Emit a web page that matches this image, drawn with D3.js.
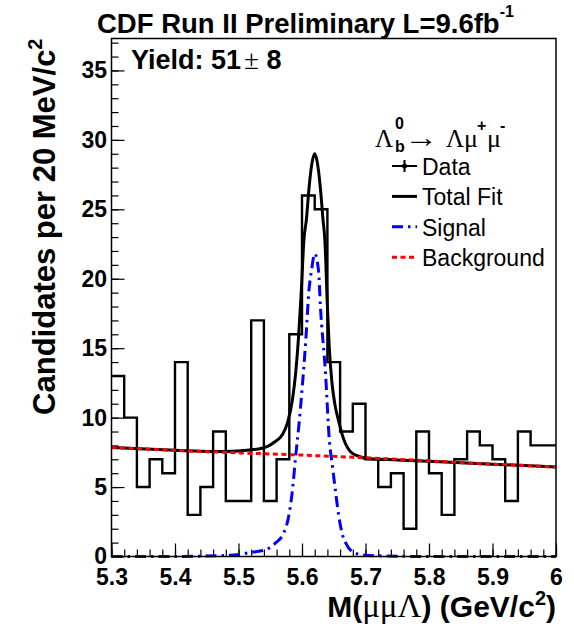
<!DOCTYPE html>
<html>
<head>
<meta charset="utf-8">
<script src="https://cdn.jsdelivr.net/npm/d3@7"></script>
<style>
body { margin: 0; background: #fff; }
svg { display: block; }
</style>
</head>
<body>
<script>
var w = 574;
var h = 626;

// frame of the pad
var frameL = 111.5, frameR = 556, frameT = 38.5, frameB = 556.5;

// histogram: candidates per 20 MeV bin, 5.30 .. 6.00
var xMin = 5.3, xMax = 6.0, binWidth = 0.02;
var counts = [13, 10, 5, 7, 6, 14, 3, 5, 9, 4,
              4, 17, 4, 7, 16, 26, 25, 14, 9, 11,
              7, 5, 6, 2, 9, 6, 3, 7, 9, 8,
              7, 4, 9, 8, 8];

// fitted curves, points
var totalMass = [5.300, 5.400, 5.460, 5.500, 5.520, 5.537, 5.545, 5.558, 5.569, 5.577,
                 5.585, 5.590, 5.595, 5.599, 5.603, 5.607, 5.611, 5.616, 5.620, 5.624,
                 5.629, 5.633, 5.636, 5.640, 5.643, 5.647, 5.652, 5.658, 5.666, 5.676,
                 5.690, 5.700, 5.750, 5.800, 5.900, 6.000];
var totalFit  = [7.85, 7.65, 7.56, 7.60, 7.68, 7.80, 7.92, 8.28, 8.76, 9.60,
                 11.3, 13.2, 16.1, 19.2, 22.8, 24.3, 26.5, 28.4, 29.0, 28.4,
                 26.5, 24.3, 22.8, 18.0, 15.0, 12.6, 10.9, 9.70, 8.40, 7.56,
                 7.20, 7.08, 6.95, 6.85, 6.65, 6.45];

var signalMass = [5.300, 5.400, 5.440, 5.480, 5.500, 5.520, 5.5425, 5.558, 5.571, 5.579,
                  5.585, 5.590, 5.595, 5.600, 5.606, 5.611, 5.615, 5.620, 5.626, 5.629,
                  5.637, 5.643, 5.648, 5.653, 5.658, 5.663, 5.669, 5.679, 5.695, 5.720,
                  5.800, 6.000];
var signalFit  = [0.00, 0.00, 0.02, 0.08, 0.15, 0.30, 0.48, 0.96, 1.68, 2.88,
                  4.80, 7.20, 9.40, 12.0, 15.6, 19.2, 20.6, 21.8, 20.6, 18.0,
                  13.2, 8.40, 6.50, 4.60, 2.90, 1.70, 0.96, 0.36, 0.12, 0.05,
                  0.00, 0.00];

var bkgMass = [5.30, 5.45, 5.60, 5.75, 5.90, 6.00];
var bkgFit  = [7.85, 7.55, 7.30, 7.00, 6.65, 6.45];

// axes
var xMajor = [5.3, 5.4, 5.5, 5.6, 5.7, 5.8, 5.9, 6.0];
var xLabels = ["5.3", "5.4", "5.5", "5.6", "5.7", "5.8", "5.9", "6"];
var yMajor = [0, 5, 10, 15, 20, 25, 30, 35];
var yTop = 37.3;

var legendNames = ["Data", "Total Fit", "Signal", "Background"];

var sans = "'Liberation Sans', Arial, Helvetica, sans-serif";
var serif = "'Liberation Serif', 'Times New Roman', serif";

var svg = d3.select("body")
            .append("svg")
            .attr("width", w)
            .attr("height", h);

svg.append("rect").attr("width", w).attr("height", h).attr("fill", "#fff");

var xScale = d3.scaleLinear()
               .domain([xMin, xMax])
               .range([frameL, frameR]);

var yScale = d3.scaleLinear()
               .domain([0, yTop])
               .range([frameB, frameT]);

// minor ticks every bin on x, every unit on y
var xMinor = d3.range(0, counts.length + 1).map(function (i) { return xMin + i * binWidth; });
var yMinor = d3.range(0, 38);

svg.append("g")
   .attr("transform", "translate(0," + frameB + ")")
   .call(d3.axisBottom(xScale).tickValues(xMinor).tickSizeInner(-7).tickSizeOuter(0).tickFormat(""))
   .call(function (g) { g.select(".domain").remove(); });

var xAxis = svg.append("g")
   .attr("transform", "translate(0," + frameB + ")")
   .call(d3.axisBottom(xScale)
           .tickValues(xMajor)
           .tickSizeInner(-13)
           .tickSizeOuter(0)
           .tickFormat(function (d, i) { return xLabels[i]; }));
xAxis.select(".domain").remove();
xAxis.selectAll("text")
     .attr("y", 28.5)
     .attr("dy", null)
     .style("font-family", sans)
     .style("font-weight", "bold")
     .style("font-size", "23px")
     .attr("fill", "#000");

svg.append("g")
   .attr("transform", "translate(" + frameL + ",0)")
   .call(d3.axisLeft(yScale).tickValues(yMinor).tickSizeInner(-7).tickSizeOuter(0).tickFormat(""))
   .call(function (g) { g.select(".domain").remove(); });

var yAxis = svg.append("g")
   .attr("transform", "translate(" + frameL + ",0)")
   .call(d3.axisLeft(yScale)
           .tickValues(yMajor)
           .tickSizeInner(-13)
           .tickSizeOuter(0)
           .tickPadding(4.5));
yAxis.select(".domain").remove();
yAxis.selectAll("text")
     .style("font-family", sans)
     .style("font-weight", "bold")
     .style("font-size", "23px")
     .attr("fill", "#000");

svg.selectAll(".tick line").attr("stroke", "#000").attr("stroke-width", 1.2);

// histogram outline
var histPoints = counts.map(function (d, i) { return [xMin + i * binWidth, d]; });
histPoints.push([xMax, counts[counts.length - 1]]);

var stepLine = d3.line()
                 .x(function (d) { return xScale(d[0]); })
                 .y(function (d) { return yScale(d[1]); })
                 .curve(d3.curveStepAfter);

svg.append("path")
   .attr("d", stepLine(histPoints))
   .attr("fill", "none")
   .attr("stroke", "#000")
   .attr("stroke-width", 2.4);

var smooth = d3.line()
               .x(function (d) { return xScale(d[0]); })
               .y(function (d) { return yScale(d[1]); })
               .curve(d3.curveMonotoneX);

function pairs(xs, ys) {
    return xs.map(function (x, i) { return [x, ys[i]]; });
}

// total fit
svg.append("path")
   .attr("d", smooth(pairs(totalMass, totalFit)))
   .attr("fill", "none")
   .attr("stroke", "#000")
   .attr("stroke-width", 3);

// signal
svg.append("path")
   .attr("d", smooth(pairs(signalMass, signalFit)))
   .attr("fill", "none")
   .attr("stroke", "#0000ff")
   .attr("stroke-width", 3)
   .attr("stroke-dasharray", "11,5,2.5,5");

// background
svg.append("path")
   .attr("d", smooth(pairs(bkgMass, bkgFit)))
   .attr("fill", "none")
   .attr("stroke", "#ff0000")
   .attr("stroke-width", 3)
   .attr("stroke-dasharray", "5,3.5");

// frame
svg.append("rect")
   .attr("x", frameL)
   .attr("y", frameT)
   .attr("width", frameR - frameL)
   .attr("height", frameB - frameT)
   .attr("fill", "none")
   .attr("stroke", "#000")
   .attr("stroke-width", 1.5);

// title
var title = svg.append("text")
   .attr("x", 97)
   .attr("y", 33)
   .style("font-family", sans)
   .style("font-weight", "bold")
   .style("font-size", "27.5px")
   .text("CDF Run II Preliminary L=9.6fb");
title.append("tspan")
     .attr("dy", -16)
     .style("font-size", "16px")
     .text("-1");

// yield
var yieldText = svg.append("text")
   .attr("x", 131)
   .attr("y", 69)
   .style("font-family", sans)
   .style("font-weight", "bold")
   .style("font-size", "27px")
   .text("Yield: 51");
yieldText.append("tspan")
   .attr("dx", 3)
   .style("font-family", serif)
   .style("font-weight", "normal")
   .text("\u00b1");
yieldText.append("tspan").text(" 8");

// axis titles
var yTitle = svg.append("text")
   .attr("transform", "translate(55," + frameT + ") rotate(-90)")
   .attr("text-anchor", "end")
   .style("font-family", sans)
   .style("font-weight", "bold")
   .style("font-size", "31px")
   .text("Candidates per 20 MeV/c");
yTitle.append("tspan").attr("dy", -13).style("font-size", "20px").text("2");

var xTitle = svg.append("text")
   .attr("x", frameR)
   .attr("y", 617)
   .attr("text-anchor", "end")
   .style("font-family", sans)
   .style("font-weight", "bold")
   .style("font-size", "30px")
   .text("M(");
xTitle.append("tspan").style("font-family", serif).style("font-weight", "normal").style("font-size", "33px").text("\u03bc\u03bc\u039b");
xTitle.append("tspan").text(") (GeV/c");
xTitle.append("tspan").attr("dy", -12).style("font-size", "20px").text("2");
xTitle.append("tspan").attr("dy", 12).text(")");

// legend header: Lambda_b^0 -> Lambda mu+ mu-
var header = svg.append("g");
function headerGlyph(x, y, txt, isSans, size) {
    return header.append("text")
                 .attr("x", x)
                 .attr("y", y)
                 .style("font-family", isSans ? sans : serif)
                 .style("font-weight", isSans ? "bold" : "normal")
                 .style("font-size", size + "px")
                 .text(txt);
}
headerGlyph(375, 147, "\u039b", false, 25);
headerGlyph(395, 129, "0", true, 16);
headerGlyph(395, 152, "b", true, 16);
headerGlyph(404, 147, "\u2192", false, 28)
      .attr("textLength", 34)
      .attr("lengthAdjust", "spacingAndGlyphs");
headerGlyph(446, 147, "\u039b", false, 25);
headerGlyph(464, 147, "\u03bc", false, 26);
headerGlyph(477, 131, "+", true, 16);
headerGlyph(487, 147, "\u03bc", false, 26);
headerGlyph(500, 131, "-", true, 16);

// legend entries
var legendX = 392, legendY = 175, legendStep = 30.4;
var legend = svg.selectAll(".leg")
   .data(legendNames)
   .enter()
   .append("g")
   .attr("class", "leg")
   .attr("transform", function (d, i) { return "translate(0," + (legendY + i * legendStep) + ")"; });

legend.append("text")
      .attr("x", 422)
      .attr("y", 0)
      .style("font-family", sans)
      .style("font-size", "23px")
      .text(function (d) { return d; });

var symY = -9;
// data marker
legend.filter(function (d, i) { return i === 0; })
      .each(function () {
          var g = d3.select(this);
          g.append("line").attr("x1", legendX).attr("x2", legendX + 25).attr("y1", symY).attr("y2", symY)
           .attr("stroke", "#000").attr("stroke-width", 2);
          g.append("line").attr("x1", legendX + 12.5).attr("x2", legendX + 12.5).attr("y1", symY - 6).attr("y2", symY + 6)
           .attr("stroke", "#000").attr("stroke-width", 2);
          g.append("circle").attr("cx", legendX + 12.5).attr("cy", symY).attr("r", 2.5).attr("fill", "#000");
      });

var legStyles = [null,
                 { color: "#000", dash: null },
                 { color: "#0000ff", dash: "11,5,2.5,5" },
                 { color: "#ff0000", dash: "5,3.5" }];

legend.filter(function (d, i) { return i > 0; })
      .append("line")
      .attr("x1", legendX)
      .attr("x2", legendX + 25)
      .attr("y1", symY)
      .attr("y2", symY)
      .attr("stroke", function (d) { return legStyles[legendNames.indexOf(d)].color; })
      .attr("stroke-width", 3)
      .attr("stroke-dasharray", function (d) { return legStyles[legendNames.indexOf(d)].dash; });
</script>
</body>
</html>
